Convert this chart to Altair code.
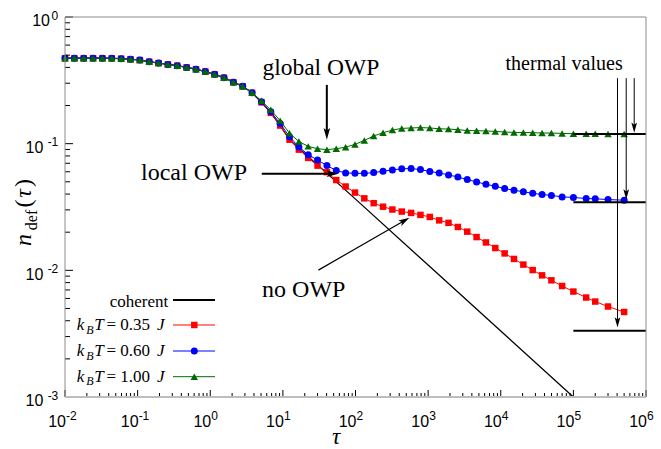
import math
import altair as alt
import pandas as pd

# plot area in pixels
W, H = 581, 380
SERIF = "Liberation Serif, Times New Roman, DejaVu Serif, serif"
SANS = "Liberation Sans, Arial, DejaVu Sans, sans-serif"

# ---------------------------------------------------------------- data
# sampling times tau (log grid, then a few late-time samples)
tau = [0.01, 0.01345, 0.0181, 0.02435, 0.03276, 0.04406, 0.05927, 0.07973, 0.1073, 0.1443,
       0.1941, 0.2611, 0.3513, 0.4726, 0.6358, 0.8551, 1.150, 1.547, 2.082, 2.800,
       3.767, 5.068, 6.817, 9.170, 12.34, 16.60, 22.33, 30.03, 40.41, 54.35,
       73.11, 98.36, 132.3, 178.0, 239.4, 322.1, 433.3, 582.9, 784.1, 1055,
       1419, 1909, 2568, 3455, 4648, 6252, 8411, 11315, 15221, 20477,
       27542, 37055, 49843, 70000, 100000, 150000, 200000, 300000, 500000]

# defect density before the curves separate (same for every temperature)
n_early = [0.473, 0.473, 0.473, 0.473, 0.473, 0.472, 0.469, 0.4645, 0.457, 0.444,
           0.4326, 0.4226, 0.4127, 0.4002, 0.3875, 0.3709, 0.3525, 0.332, 0.306, 0.2836,
           0.2521]

n_T035 = n_early + [0.212, 0.175, 0.139, 0.1075, 0.0897, 0.0772, 0.0671, 0.0596, 0.0516,
                    0.0459, 0.0411, 0.0370, 0.0339, 0.0318, 0.0302, 0.0291, 0.0284, 0.0274,
                    0.0264, 0.0248, 0.0237, 0.0220, 0.0202, 0.0183, 0.0166, 0.0150, 0.0136,
                    0.0123, 0.0111, 0.01005, 0.00913, 0.00834, 0.00752, 0.00680, 0.00610,
                    0.00567, 0.00518, 0.00469]

n_T060 = n_early + [0.214, 0.179, 0.144, 0.1135, 0.0942, 0.0819, 0.0742, 0.0671, 0.0613,
                    0.0588, 0.0583, 0.0583, 0.0591, 0.0605, 0.0621, 0.0633, 0.0636, 0.0624,
                    0.0604, 0.0586, 0.0567, 0.0545, 0.0521, 0.0499, 0.0478, 0.0461, 0.0442,
                    0.0429, 0.0417, 0.0406, 0.0397, 0.0390, 0.0380, 0.0376, 0.0369,
                    0.0367, 0.0362, 0.0358]

n_T100 = n_early + [0.218, 0.185, 0.152, 0.121, 0.104, 0.0952, 0.0913, 0.0897, 0.0913,
                    0.0938, 0.0987, 0.106, 0.115, 0.122, 0.128, 0.132, 0.133, 0.134,
                    0.133, 0.131, 0.1305, 0.129, 0.127, 0.1266, 0.126, 0.125, 0.1236,
                    0.1227, 0.1225, 0.1221, 0.1214, 0.1212, 0.1205, 0.1199, 0.1198,
                    0.1197, 0.1193, 0.1192]

# coherent (closed-system) evolution
coh_tau = tau[:25] + [100, 1000, 10000, 100000]
coh_n = n_early + [0.212, 0.175, 0.139, 0.1075] + [0.0365, 0.0110, 0.00332, 0.00100]

# thermal equilibrium values, drawn from tau = 1e5 to 1e6
thermal_span = [1e5, 1e6]
thermal_n = [0.00333, 0.0345, 0.119]

series_labels = ["0.35", "0.60", "1.00"]
series_colors = ["#ff0000", "#0000ff", "#006a00"]
series_shapes = ["square", "circle", "triangle-up"]
series_sizes = [42, 49, 56]

# axis ticks
x_exps = list(range(-2, 7))
y_exps = list(range(-3, 1))
minor_mult = list(range(2, 10))

# ---------------------------------------------------------------- scales
xs = alt.Scale(type="log", domain=[1e-2, 1e6], nice=False)
ys = alt.Scale(type="log", domain=[1e-3, 1], nice=False)
one = pd.DataFrame({"a": [0]})


def X(f):
    return alt.X(f"{f}:Q", scale=xs, axis=None)


def Y(f):
    return alt.Y(f"{f}:Q", scale=ys, axis=None)


def px_dir(t0, n0, t1, n1):
    dx = (math.log10(t1) - math.log10(t0)) * W / 8
    dy = -(math.log10(n1) - math.log10(n0)) * H / 3
    return dx, dy


layers = []

# coherent curve
coh = alt.Chart(pd.DataFrame({"tau": coh_tau, "n": coh_n})).mark_line(
    color="black", strokeWidth=1.3).encode(x=X("tau"), y=Y("n"))
layers.append(coh)

# finite-temperature curves
for vals, col, shp, sz in zip([n_T035, n_T060, n_T100], series_colors, series_shapes, series_sizes):
    base = alt.Chart(pd.DataFrame({"tau": tau, "n": vals})).encode(x=X("tau"), y=Y("n"))
    layers.append(base.mark_line(color=col, strokeWidth=1))
    layers.append(base.mark_point(shape=shp, size=sz, filled=True, color=col, opacity=1))

# thermal values
therm = pd.DataFrame({"t0": [thermal_span[0]] * 3, "t1": [thermal_span[1]] * 3, "n": thermal_n})
layers.append(alt.Chart(therm).mark_rule(color="black", strokeWidth=2).encode(
    x=X("t0"), x2="t1", y=Y("n")))

# arrows: (tau0, n0, tau1, n1, line width, head size)
ARROW = "M0,0L0.5,1.8L0,1.4L-0.5,1.8Z"
arrows = [
    (40.3, 0.291, 40.3, 0.1075, 2, 170),
    (5.12, 0.058, 58.1, 0.058, 2, 170),
    (30.8, 0.01004, 552.0, 0.026, 1.2, 150),
    (4.05e5, 0.329, 4.05e5, 0.00354, 1, 130),
    (5.34e5, 0.329, 5.34e5, 0.0362, 1, 130),
    (6.88e5, 0.329, 6.88e5, 0.122, 1, 130),
]
for t0, n0, t1, n1, lw, hs in arrows:
    dx, dy = px_dir(t0, n0, t1, n1)
    L = math.hypot(dx, dy)
    back = 5.0 / L  # stop the shaft inside the head
    te = 10 ** (math.log10(t1) - back * (math.log10(t1) - math.log10(t0)))
    ne = 10 ** (math.log10(n1) - back * (math.log10(n1) - math.log10(n0)))
    ang = math.degrees(math.atan2(dx, -dy)) % 360
    d = pd.DataFrame({"t0": [t0], "n0": [n0], "t1": [te], "n1": [ne], "tt": [t1], "nt": [n1]})
    layers.append(alt.Chart(d).mark_rule(color="black", strokeWidth=lw).encode(
        x=X("t0"), y=Y("n0"), x2="t1", y2="n1"))
    layers.append(alt.Chart(d).mark_point(shape=ARROW, size=hs, filled=True, color="black",
                                          opacity=1, angle=round(ang, 2)).encode(
        x=X("tt"), y=Y("nt")))

# annotations
annotations = [
    ("global OWP", 33.3, 0.349, "center", 23.5),
    ("local OWP", 3.21, 0.0516, "right", 24),
    ("no OWP", 5.17, 0.00613, "left", 24),
    ("thermal values", 7.46e4, 0.383, "center", 20),
]
for txt, t, n, al, fs in annotations:
    d = pd.DataFrame({"t": [t], "n": [n]})
    layers.append(alt.Chart(d).mark_text(text=txt, font=SERIF, fontSize=fs, align=al,
                                         baseline="alphabetic", color="black").encode(
        x=X("t"), y=Y("n")))

# legend
rows_y = [283, 308, 334, 359.7]
LX0, LX1, LMX, LTX = 108, 150, 129.3, 103.3
layers.append(alt.Chart(one).mark_rule(color="black", strokeWidth=2).encode(
    x=alt.value(LX0), x2=alt.value(LX1), y=alt.value(rows_y[0])))
layers.append(alt.Chart(one).mark_text(text="coherent", font=SERIF, fontSize=17, align="right",
                                       baseline="alphabetic").encode(
    x=alt.value(LTX), y=alt.value(rows_y[0] + 6.5)))
for ry, lab, col, shp, sz in zip(rows_y[1:], series_labels, series_colors, series_shapes, series_sizes):
    layers.append(alt.Chart(one).mark_rule(color=col, strokeWidth=1).encode(
        x=alt.value(LX0), x2=alt.value(LX1), y=alt.value(ry)))
    layers.append(alt.Chart(one).mark_point(shape=shp, size=sz, filled=True, color=col, opacity=1).encode(
        x=alt.value(LMX), y=alt.value(ry)))
    pieces = [("k", 15.5, 5, 17, "italic"), ("B", 25, 8.5, 12, "italic"), ("T", 34, 5, 17, "italic"),
              ("= " + lab, 63.2, 5, 17, "normal"), ("J", 95.8, 5, 17, "italic")]
    for txt, px, off, fs, st in pieces:
        layers.append(alt.Chart(one).mark_text(text=txt, font=SERIF, fontSize=fs, fontStyle=st,
                                               align="center", baseline="alphabetic").encode(
            x=alt.value(px), y=alt.value(ry + off)))

# axis titles
layers.append(alt.Chart(one).mark_text(text="τ", font=SERIF, fontSize=23, fontStyle="italic",
                                       align="center", baseline="alphabetic").encode(
    x=alt.value(271), y=alt.value(H + 46.5)))
ytitle = [("n", 223, -34, 24, "italic"), ("def", 203, -28.5, 16, "normal"),
          ("(", 186.5, -34, 24, "normal"), ("τ", 176.5, -34, 24, "italic"), (")", 166, -34, 24, "normal")]
for txt, py, bx, fs, st in ytitle:
    layers.append(alt.Chart(one).mark_text(text=txt, font=SERIF, fontSize=fs, fontStyle=st, angle=270,
                                           align="center", baseline="alphabetic").encode(
        x=alt.value(bx), y=alt.value(py)))

# ticks (pointing inwards)
xmaj = pd.DataFrame({"v": [10.0 ** e for e in x_exps], "e": [str(e) for e in x_exps]})
xmin = pd.DataFrame({"v": [m * 10.0 ** e for e in x_exps[:-1] for m in minor_mult]})
ymaj = pd.DataFrame({"v": [10.0 ** e for e in y_exps], "e": [str(e) for e in y_exps]})
ymin = pd.DataFrame({"v": [m * 10.0 ** e for e in y_exps[:-1] for m in minor_mult]})

layers.append(alt.Chart(xmaj).mark_rule(color="black", strokeWidth=1).encode(
    x=X("v"), y=alt.value(H), y2=alt.value(H - 7)))
layers.append(alt.Chart(xmin).mark_rule(color="black", strokeWidth=1).encode(
    x=X("v"), y=alt.value(H), y2=alt.value(H - 4)))
layers.append(alt.Chart(ymaj).mark_rule(color="black", strokeWidth=1).encode(
    y=Y("v"), x=alt.value(0), x2=alt.value(8)))
layers.append(alt.Chart(ymin).mark_rule(color="black", strokeWidth=1).encode(
    y=Y("v"), x=alt.value(0), x2=alt.value(5)))

# frame
layers.append(alt.Chart(one).mark_rule(color="#8c8c8c", strokeWidth=1).encode(
    x=alt.value(0), y=alt.value(0), y2=alt.value(H)))
layers.append(alt.Chart(one).mark_rule(color="#8c8c8c", strokeWidth=1).encode(
    x=alt.value(W), y=alt.value(0), y2=alt.value(H)))
layers.append(alt.Chart(one).mark_rule(color="#8c8c8c", strokeWidth=1).encode(
    x=alt.value(0), x2=alt.value(W), y=alt.value(0)))
layers.append(alt.Chart(one).mark_rule(color="#bdbdbd", strokeWidth=2).encode(
    x=alt.value(0), x2=alt.value(W), y=alt.value(H)))

# tick labels 10^e
layers.append(alt.Chart(xmaj).mark_text(text="10", font=SANS, fontSize=16, align="right",
                                        baseline="alphabetic", dx=1).encode(
    x=X("v"), y=alt.value(H + 30)))
layers.append(alt.Chart(xmaj).mark_text(font=SANS, fontSize=12, align="left",
                                        baseline="alphabetic", dx=1).encode(
    x=X("v"), y=alt.value(H + 22.5), text="e:N"))
layers.append(alt.Chart(ymaj).mark_text(font=SANS, fontSize=12, align="right",
                                        baseline="alphabetic", dy=2.5).encode(
    y=Y("v"), x=alt.value(-6.7), text="e:N"))
layers.append(alt.Chart(ymaj[ymaj.e == "0"]).mark_text(text="10", font=SANS, fontSize=16, align="right",
                                                       baseline="alphabetic", dy=9.3).encode(
    y=Y("v"), x=alt.value(-15)))
layers.append(alt.Chart(ymaj[ymaj.e != "0"]).mark_text(text="10", font=SANS, fontSize=16, align="right",
                                                       baseline="alphabetic", dy=9.3).encode(
    y=Y("v"), x=alt.value(-21.7)))

chart = alt.layer(*layers).properties(
    width=W, height=H,
    padding={"left": 65, "top": 17, "right": 15, "bottom": 52},
    autosize=alt.AutoSizeParams(type="none"),
    background="white",
).configure_view(strokeWidth=0)

chart.save("out.html", embed_options={"renderer": "svg", "actions": False})
